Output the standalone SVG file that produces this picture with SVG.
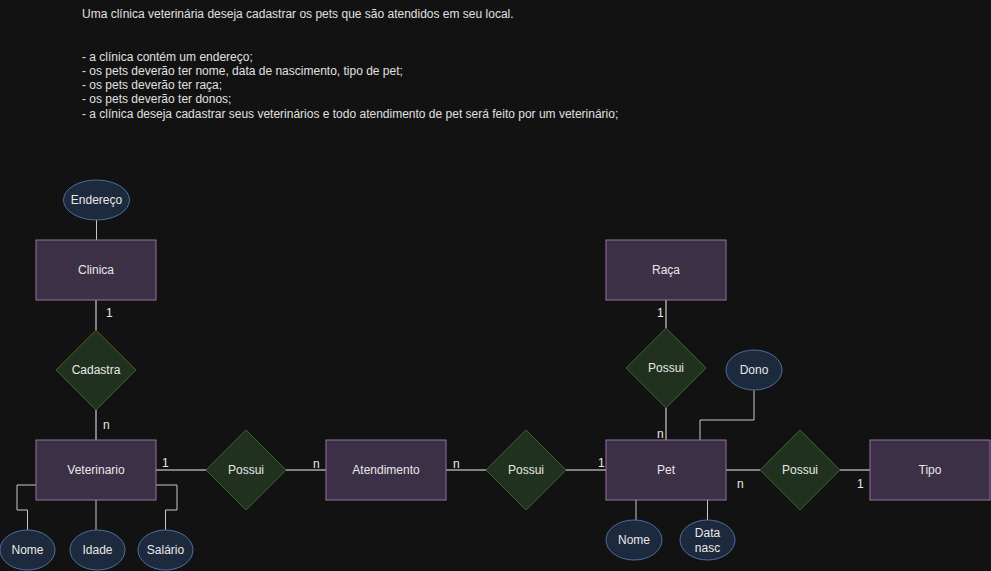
<svg xmlns="http://www.w3.org/2000/svg" width="991" height="571" viewBox="0 0 991 571">
<style>
text{font-family:"Liberation Sans",Arial,sans-serif;font-size:12px;fill:#e8e8e8}
.c{text-anchor:middle;dominant-baseline:central}
.ent{fill:#3b3045;stroke:#9673a6;stroke-width:1}
.rel{fill:#21311f;stroke:#3e5f29;stroke-width:1}
.att{fill:#1d293c;stroke:#4d6e9e;stroke-width:1}
.ln{fill:none;stroke:#f0f0f0;stroke-width:1}
.al{fill:none;stroke:#c8c8c8;stroke-width:1}
.hd{font-size:12px;fill:#e0e0e0}
</style>
<rect x="0" y="0" width="991" height="571" fill="#121212"/>
<g id="description">
<text class="hd" x="82" y="18">Uma clínica veterinária deseja cadastrar os pets que são atendidos em seu local.</text>
<text class="hd" x="82" y="61">- a clínica contém um endereço;</text>
<text class="hd" x="82" y="75">- os pets deverão ter nome, data de nascimento, tipo de pet;</text>
<text class="hd" x="82" y="89">- os pets deverão ter raça;</text>
<text class="hd" x="82" y="103">- os pets deverão ter donos;</text>
<text class="hd" x="82" y="118">- a clínica deseja cadastrar seus veterinários e todo atendimento de pet será feito por um veterinário;</text>
</g>
<g id="connectors">
<path class="al" d="M96.5 220V240"/>
<path class="ln" d="M96 300V330"/>
<path class="ln" d="M96 410V440"/>
<path class="ln" d="M156 470H206"/>
<path class="ln" d="M286 470H326"/>
<path class="ln" d="M446 470H486"/>
<path class="ln" d="M566 470H606"/>
<path class="ln" d="M666 300V328"/>
<path class="ln" d="M666 408V440"/>
<path class="ln" d="M726 470H760"/>
<path class="ln" d="M840 470H870"/>
<path class="al" d="M754 390V420H700V440"/>
<path class="al" d="M636 500V520"/>
<path class="al" d="M707.5 500V520"/>
<path class="al" d="M36 485H17V510H27.5V530"/>
<path class="al" d="M96 500V530"/>
<path class="al" d="M156 485H177V510H165.5V530"/>
<text x="106" y="317">1</text>
<text x="103" y="429">n</text>
<text x="162" y="467">1</text>
<text x="313" y="468">n</text>
<text x="453" y="468">n</text>
<text x="598" y="467">1</text>
<text x="657" y="317">1</text>
<text x="657" y="438">n</text>
<text x="737" y="488">n</text>
<text x="857" y="488">1</text>
</g>
<g id="endereco"><ellipse class="att" cx="96.5" cy="200" rx="33" ry="20"/><text class="c" x="96.5" y="200">Endereço</text></g>
<g id="clinica"><rect class="ent" x="36" y="240" width="120" height="60"/><text class="c" x="96" y="270">Clinica</text></g>
<g id="cadastra"><polygon class="rel" points="96,330 136,370 96,410 56,370"/><text class="c" x="96" y="370">Cadastra</text></g>
<g id="veterinario"><rect class="ent" x="36" y="440" width="120" height="60"/><text class="c" x="96" y="470">Veterinario</text></g>
<g id="vet-nome"><ellipse class="att" cx="27.5" cy="550" rx="27.5" ry="20"/><text class="c" x="27.5" y="550">Nome</text></g>
<g id="vet-idade"><ellipse class="att" cx="97.5" cy="550" rx="27.5" ry="20"/><text class="c" x="97.5" y="550">Idade</text></g>
<g id="vet-salario"><ellipse class="att" cx="165.5" cy="550" rx="27.5" ry="20"/><text class="c" x="165.5" y="550">Salário</text></g>
<g id="possui1"><polygon class="rel" points="246,430 286,470 246,510 206,470"/><text class="c" x="246" y="470">Possui</text></g>
<g id="atendimento"><rect class="ent" x="326" y="440" width="120" height="60"/><text class="c" x="386" y="470">Atendimento</text></g>
<g id="possui2"><polygon class="rel" points="526,430 566,470 526,510 486,470"/><text class="c" x="526" y="470">Possui</text></g>
<g id="pet"><rect class="ent" x="606" y="440" width="120" height="60"/><text class="c" x="666" y="470">Pet</text></g>
<g id="raca"><rect class="ent" x="606" y="240" width="120" height="60"/><text class="c" x="666" y="270">Raça</text></g>
<g id="possui-raca"><polygon class="rel" points="666,328 706,368 666,408 626,368"/><text class="c" x="666" y="368">Possui</text></g>
<g id="dono"><ellipse class="att" cx="754" cy="370" rx="28" ry="20"/><text class="c" x="754" y="370">Dono</text></g>
<g id="pet-nome"><ellipse class="att" cx="634" cy="540" rx="28" ry="20"/><text class="c" x="634" y="540">Nome</text></g>
<g id="pet-datanasc"><ellipse class="att" cx="707.5" cy="540" rx="27.5" ry="20"/><text class="c" x="707.5" y="533">Data</text><text class="c" x="707.5" y="548">nasc</text></g>
<g id="possui3"><polygon class="rel" points="800,430 840,470 800,510 760,470"/><text class="c" x="800" y="470">Possui</text></g>
<g id="tipo"><rect class="ent" x="870" y="440" width="120" height="60"/><text class="c" x="930" y="470">Tipo</text></g>
</svg>
